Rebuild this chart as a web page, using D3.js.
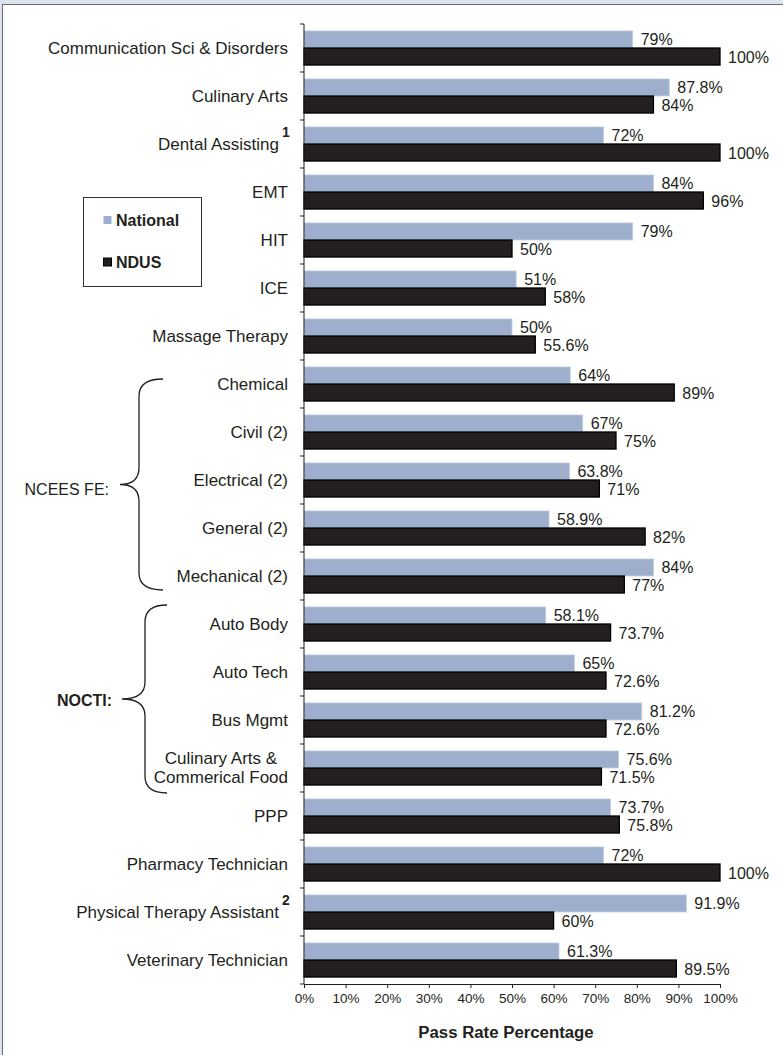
<!DOCTYPE html>
<html>
<head>
    <meta charset="utf-8">
    <script src="https://cdnjs.cloudflare.com/ajax/libs/d3/7.8.5/d3.min.js"></script>
</head>

<style>
    body { margin: 0; background: #dde3ee; }
    text { font-family: "Liberation Sans", Arial, sans-serif; fill: #231f20; }
    .cat { font-size: 17px; }
    .val { font-size: 16px; }
    .tick-label { font-size: 13.5px; }
</style>

<body>
<div id="chart"></div>

<script>

    var categories = [
        'Communication Sci & Disorders', 'Culinary Arts', 'Dental Assisting', 'EMT', 'HIT', 'ICE',
        'Massage Therapy', 'Chemical', 'Civil (2)', 'Electrical (2)', 'General (2)', 'Mechanical (2)',
        'Auto Body', 'Auto Tech', 'Bus Mgmt', 'Culinary Arts &\nCommerical Food', 'PPP',
        'Pharmacy Technician', 'Physical Therapy Assistant', 'Veterinary Technician'
    ];

    var national = [79, 87.8, 72, 84, 79, 51, 50, 64, 67, 63.8, 58.9, 84, 58.1, 65, 81.2, 75.6, 73.7, 72, 91.9, 61.3];
    var ndus     = [100, 84, 100, 96, 50, 58, 55.6, 89, 75, 71, 82, 77, 73.7, 72.6, 72.6, 71.5, 75.8, 100, 60, 89.5];

    var seriesNames = ['National', 'NDUS'];
    var xTicks = [0, 10, 20, 30, 40, 50, 60, 70, 80, 90, 100];

    var footnotes = { 'Dental Assisting': '1', 'Physical Therapy Assistant': '2' };

    var groupNames = ['NCEES FE:', 'NOCTI:'];
    var groupFirst = ['Chemical', 'Auto Body'];
    var groupLast  = ['Mechanical (2)', 'Culinary Arts &\nCommerical Food'];

    var width = 783, height = 1055;
    var colors = { National: '#9eafcd', NDUS: '#231f20' };

    var svg = d3.select('#chart').append('svg')
        .attr('width', width)
        .attr('height', height);

    // white panel with grey frame
    svg.append('rect')
        .attr('x', 2.5).attr('y', 4.5)
        .attr('width', width + 10).attr('height', height + 10)
        .attr('fill', 'white')
        .attr('stroke', '#6d6d6d');

    var xScale = d3.scaleLinear().domain([0, 100]).range([304, 720]);

    var yScale = d3.scaleBand()
        .domain(categories)
        .range([24, 984])
        .paddingInner(0.29)
        .paddingOuter(0.145);

    var ySub = d3.scaleBand()
        .domain(seriesNames)
        .range([0, yScale.bandwidth()]);

    var step = yScale.step();

    var rows = categories.map(function(c, i) {
        return { cat: c, values: [
            { key: 'National', v: national[i] },
            { key: 'NDUS', v: ndus[i] }
        ]};
    });

    var g = svg.append('g');

    var rowG = g.selectAll('g.row')
        .data(rows)
        .enter()
        .append('g')
        .attr('class', 'row')
        .attr('transform', function(d) { return 'translate(0,' + yScale(d.cat) + ')'; });

    rowG.selectAll('rect')
        .data(function(d) { return d.values; })
        .enter()
        .append('rect')
        .attr('x', xScale(0))
        .attr('y', function(d) { return ySub(d.key); })
        .attr('width', function(d) { return xScale(d.v) - xScale(0); })
        .attr('height', ySub.bandwidth())
        .attr('fill', function(d) { return colors[d.key]; })
        .attr('stroke', function(d) { return d.key == 'NDUS' ? '#000' : '#c3cde0'; })
        .attr('stroke-width', function(d) { return d.key == 'NDUS' ? 1.3 : 0.8; });

    rowG.selectAll('text.val')
        .data(function(d) { return d.values; })
        .enter()
        .append('text')
        .attr('class', 'val')
        .attr('x', function(d) { return xScale(d.v) + 8; })
        .attr('y', function(d) { return ySub(d.key) + ySub.bandwidth() / 2 + (d.key == 'NDUS' ? 1 : -0.5); })
        .attr('dy', '0.35em')
        .text(function(d) { return d.v + '%'; });

    // category labels
    var labelX = 288;
    categories.forEach(function(c) {
        var lines = c.split('\n');
        var cy = yScale(c) + yScale.bandwidth() / 2;
        if (lines.length == 1) {
            var t = g.append('text')
                .attr('class', 'cat')
                .attr('x', labelX)
                .attr('y', cy)
                .attr('dy', '0.35em')
                .attr('text-anchor', 'end')
                .text(c);
            if (footnotes[c]) {
                t.attr('x', labelX - 9);
                g.append('text')
                    .attr('x', labelX - 6)
                    .attr('y', cy - 12)
                    .attr('dy', '0.35em')
                    .style('font-size', '14px')
                    .style('font-weight', 'bold')
                    .text(footnotes[c]);
            }
        } else {
            var lineH = 19;
            var texts = lines.map(function(l, j) {
                return g.append('text')
                    .attr('class', 'cat')
                    .attr('y', cy + (j - (lines.length - 1) / 2) * lineH)
                    .attr('dy', '0.35em')
                    .attr('text-anchor', 'middle')
                    .text(l);
            });
            var maxW = d3.max(texts, function(t) { return t.node().getComputedTextLength(); });
            texts.forEach(function(t) { t.attr('x', labelX - maxW / 2); });
        }
    });

    // y axis line with ticks at band boundaries
    var axisColor = '#231f20';
    g.append('line')
        .attr('x1', xScale(0)).attr('x2', xScale(0))
        .attr('y1', 24).attr('y2', 984)
        .attr('stroke', axisColor);

    g.selectAll('line.ytick')
        .data(categories.concat(['_end']))
        .enter()
        .append('line')
        .attr('x1', xScale(0) - 4).attr('x2', xScale(0))
        .attr('y1', function(d, i) { return 24 + i * step; })
        .attr('y2', function(d, i) { return 24 + i * step; })
        .attr('stroke', axisColor);

    // x axis
    var xAxis = d3.axisBottom(xScale)
        .tickValues(xTicks)
        .tickSize(4)
        .tickPadding(5)
        .tickFormat(function(d) { return d + '%'; });

    var xg = g.append('g')
        .attr('transform', 'translate(0,984)')
        .call(xAxis);
    xg.select('.domain').attr('stroke', axisColor);
    xg.selectAll('.tick line').attr('stroke', axisColor);
    xg.selectAll('.tick text')
        .attr('class', 'tick-label')
        .attr('fill', axisColor)
        .style('font-family', '"Liberation Sans", Arial, sans-serif');

    g.append('text')
        .attr('x', 506)
        .attr('y', 1038)
        .attr('text-anchor', 'middle')
        .style('font-size', '16.8px')
        .style('font-weight', 'bold')
        .text('Pass Rate Percentage');

    // braces for grouped categories
    function brace(xEnd, xV, xTip, y0, y1, r) {
        var ym = (y0 + y1) / 2;
        return 'M' + xEnd + ',' + y0 +
            ' Q' + xV + ',' + y0 + ' ' + xV + ',' + (y0 + r) +
            ' L' + xV + ',' + (ym - r) +
            ' Q' + xV + ',' + ym + ' ' + xTip + ',' + ym +
            ' Q' + xV + ',' + ym + ' ' + xV + ',' + (ym + r) +
            ' L' + xV + ',' + (y1 - r) +
            ' Q' + xV + ',' + y1 + ' ' + xEnd + ',' + y1;
    }

    groupNames.forEach(function(name, i) {
        var y0 = yScale(groupFirst[i]) - yScale.paddingOuter() * step;
        var y1 = yScale(groupLast[i]) + yScale.bandwidth() + yScale.paddingOuter() * step;
        var bold = i == 1;
        var top = bold ? y0 + 5 : y0 + 19;
        var bot = bold ? y1 + 1 : y1 - 10;
        var xV = bold ? 145 : 139;
        var xE = bold ? 167 : 163;
        var xT = bold ? 122 : 120;
        g.append('path')
            .attr('d', brace(xE, xV, xT, top, bot, 17))
            .attr('fill', 'none')
            .attr('stroke', '#231f20')
            .attr('stroke-width', 1.3);
        g.append('text')
            .attr('x', bold ? 112 : 109)
            .attr('y', (top + bot) / 2 + (bold ? 1 : 5))
            .attr('dy', '0.35em')
            .attr('text-anchor', 'end')
            .style('font-size', '16px')
            .style('font-weight', bold ? 'bold' : 'normal')
            .text(name);
    });

    // legend
    var legend = g.append('g');
    legend.append('rect')
        .attr('x', 83.5).attr('y', 197.5)
        .attr('width', 118).attr('height', 89)
        .attr('fill', 'white')
        .attr('stroke', '#333');

    seriesNames.forEach(function(s, i) {
        var ly = 220 + i * 42;
        legend.append('rect')
            .attr('x', 103.5).attr('y', ly - 4)
            .attr('width', 8).attr('height', 8)
            .attr('fill', colors[s])
            .attr('stroke', s == 'NDUS' ? '#000' : 'none');
        legend.append('text')
            .attr('x', 116)
            .attr('y', ly)
            .attr('dy', '0.35em')
            .style('font-size', '16px')
            .style('font-weight', 'bold')
            .text(s);
    });

</script>
</body>
</html>
